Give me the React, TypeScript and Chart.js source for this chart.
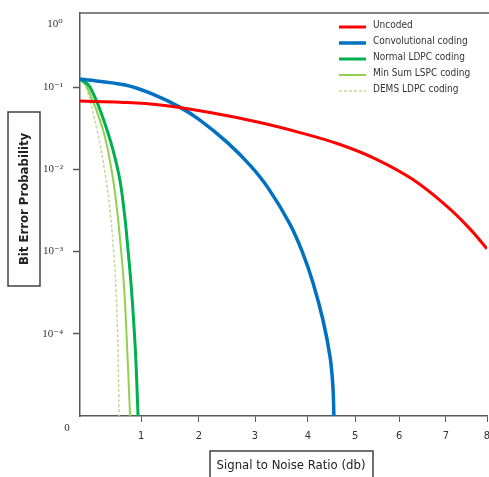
import React, { useEffect, useRef } from "react";
import { Chart, registerables, LinearScale } from "chart.js";

Chart.register(...registerables);

// ---- data ----
const X_TICKS = [1, 2, 3, 4, 5, 6, 7, 8];
const Y_TICKS = [1e-4, 1e-3, 1e-2, 1e-1];
const Y_TICK_LABELS = ["10⁻⁴", "10⁻³", "10⁻²", "10⁻¹"];
const Y_TOP_LABEL = "10⁰";
const ORIGIN_LABEL = "0";

const SERIES_NAMES = [
  "Uncoded",
  "Convolutional coding",
  "Normal LDPC coding",
  "Min Sum LSPC coding",
  "DEMS LDPC coding",
];

const UNCODED_X = [0, 0.66, 1.33, 2.2, 3.09, 3.85, 4.68, 5.45, 6.28, 7.02, 7.59, 8];
const UNCODED_Y = [0.0675, 0.0653, 0.0604, 0.0489, 0.037, 0.0279, 0.02, 0.01349, 0.0076, 0.00356, 0.00187, 0.00108];

const CONV_X = [0, 0.74, 1.24, 1.67, 2.02, 2.5, 2.91, 3.25, 3.66, 3.91, 4.11, 4.32, 4.47, 4.53, 4.55];
const CONV_Y = [0.125, 0.1057, 0.0798, 0.057, 0.0396, 0.0214, 0.01125, 0.0059, 0.00215, 0.00093, 0.000412, 0.000146, 0.0000519, 0.0000224, 0.00001];

const NORMAL_X = [0, 0.164, 0.443, 0.631, 0.721, 0.787, 0.844, 0.907, 0.951];
const NORMAL_Y = [0.125, 0.1, 0.03, 0.009, 0.00318, 0.00104, 0.000339, 0.000063, 0.00001];

const MINSUM_X = [0, 0.115, 0.377, 0.525, 0.607, 0.672, 0.725, 0.774, 0.82];
const MINSUM_Y = [0.125, 0.1, 0.03, 0.009, 0.00318, 0.00104, 0.000339, 0.000063, 0.00001];

const DEMS_X = [0, 0.098, 0.279, 0.41, 0.492, 0.549, 0.59, 0.623, 0.639];
const DEMS_Y = [0.125, 0.1, 0.03, 0.009, 0.00318, 0.00104, 0.000339, 0.000063, 0.00001];

// ---- scale config: the reference's x ticks are unevenly spaced ----
const X_TICK_FRACTIONS = [0, 0.15, 0.292, 0.43, 0.56, 0.676, 0.784, 0.899, 1];

function warp(v: number) {
  const n = X_TICK_FRACTIONS.length - 1;
  if (v <= 0) return X_TICK_FRACTIONS[0] + v * (X_TICK_FRACTIONS[1] - X_TICK_FRACTIONS[0]);
  if (v >= n) return X_TICK_FRACTIONS[n] + (v - n) * (X_TICK_FRACTIONS[n] - X_TICK_FRACTIONS[n - 1]);
  const i = Math.floor(v);
  const t = v - i;
  return X_TICK_FRACTIONS[i] + t * (X_TICK_FRACTIONS[i + 1] - X_TICK_FRACTIONS[i]);
}
function unwarp(d: number) {
  const n = X_TICK_FRACTIONS.length - 1;
  for (let i = 0; i < n; i++) {
    const a = X_TICK_FRACTIONS[i], b = X_TICK_FRACTIONS[i + 1];
    if (d <= b || i === n - 1) return i + (d - a) / (b - a);
  }
  return n;
}

class WarpScale extends LinearScale {
  static id = "warp";
  static defaults = LinearScale.defaults;
  getPixelForValue(value: any) {
    if (value === null || value === undefined || isNaN(value)) return NaN;
    return this.getPixelForDecimal(warp(value));
  }
  getValueForPixel(pixel: number) {
    return unwarp(this.getDecimalForPixel(pixel));
  }
}
Chart.register(WarpScale as any);

const pts = (xs: number[], ys: number[]) => xs.map((x, i) => ({ x, y: ys[i] }));

const COLORS = ["#FF0000", "#0070C0", "#00B050", "#92D050", "#C4D69B"];
const WIDTHS = [3, 3.5, 3, 2, 1.5];

const SANS = "'Liberation Sans Narrow', 'DejaVu Sans Condensed', 'Liberation Sans', sans-serif";
const SERIF = "'Liberation Serif', 'DejaVu Serif', serif";

const decor = {
  id: "decor",
  afterDraw(chart: any) {
    const { ctx, chartArea: a } = chart;
    ctx.save();
    // top border
    ctx.strokeStyle = "#595959";
    ctx.lineWidth = 1.5;
    ctx.beginPath();
    ctx.moveTo(a.left, a.top);
    ctx.lineTo(a.right + 2, a.top);
    ctx.stroke();

    // extra axis labels
    ctx.fillStyle = "#333";
    ctx.textAlign = "center";
    ctx.textBaseline = "middle";
    ctx.font = `11px ${SERIF}`;
    ctx.fillText(Y_TOP_LABEL, 55, a.top + 11);
    ctx.fillText(ORIGIN_LABEL, 67, a.bottom + 12);

    // y title box
    ctx.strokeStyle = "#404040";
    ctx.lineWidth = 1.5;
    ctx.strokeRect(8, 112, 32, 174);
    ctx.save();
    ctx.translate(25, 199);
    ctx.rotate(-Math.PI / 2);
    ctx.fillStyle = "#222";
    ctx.font = `bold 13px ${SANS}`;
    ctx.fillText("Bit Error Probability", 0, 0);
    ctx.restore();

    // x title box
    ctx.strokeRect(210, 451, 163, 40);
    ctx.fillStyle = "#222";
    ctx.font = `13px ${SANS}`;
    ctx.fillText("Signal to Noise Ratio (db)", 291, 466);

    // legend
    const lx = a.right - 148;
    ctx.textAlign = "left";
    ctx.font = `10px ${SANS}`;
    chart.data.datasets.forEach((ds: any, i: number) => {
      const ty = a.top + 12 + i * 16;
      const ly = ty + 2;
      ctx.strokeStyle = ds.borderColor;
      ctx.lineWidth = ds.borderWidth;
      ctx.setLineDash(ds.borderDash || []);
      ctx.beginPath();
      ctx.moveTo(lx, ly);
      ctx.lineTo(lx + 27, ly);
      ctx.stroke();
      ctx.setLineDash([]);
      ctx.fillStyle = "#333";
      ctx.fillText(ds.label, lx + 34, ty);
    });
    ctx.restore();
  },
};

export default function App() {
  const ref = useRef<HTMLCanvasElement>(null);
  useEffect(() => {
    document.body.style.margin = "0";
    const series = [
      pts(UNCODED_X, UNCODED_Y),
      pts(CONV_X, CONV_Y),
      pts(NORMAL_X, NORMAL_Y),
      pts(MINSUM_X, MINSUM_Y),
      pts(DEMS_X, DEMS_Y),
    ];
    const chart = new Chart(ref.current!, {
      type: "scatter",
      data: {
        datasets: series.map((d, i) => ({
          label: SERIES_NAMES[i],
          data: d,
          showLine: true,
          borderColor: COLORS[i],
          backgroundColor: COLORS[i],
          borderWidth: WIDTHS[i],
          borderDash: i === 4 ? [3, 2] : [],
          pointRadius: 0,
          tension: 0.4,
          fill: false,
        })),
      },
      options: {
        animation: false,
        responsive: false,
        devicePixelRatio: 1,
        layout: { padding: { top: 13, right: 2, left: 0, bottom: 0 } },
        plugins: { legend: { display: false }, tooltip: { enabled: false } },
        scales: {
          x: {
            type: "warp" as any,
            min: 0,
            max: 8,
            afterBuildTicks: (s: any) => {
              s.ticks = X_TICKS.map((v) => ({ value: v }));
            },
            afterFit: (s: any) => {
              s.height = 61;
              s.paddingLeft = 0;
              s.paddingRight = 0;
            },
            border: { display: true, color: "#595959", width: 1.5 },
            grid: { display: true, drawOnChartArea: false, drawTicks: true, tickLength: 6, color: "#595959", tickWidth: 1 },
            ticks: {
              autoSkip: false,
              maxRotation: 0,
              padding: 8,
              color: "#333",
              font: { family: SANS, size: 11 },
              callback: (v: any) => String(v),
            },
          },
          y: {
            type: "logarithmic",
            min: 1e-5,
            max: Math.pow(10, -0.1),
            afterBuildTicks: (s: any) => {
              s.ticks = Y_TICKS.map((v) => ({ value: v }));
            },
            afterFit: (s: any) => {
              s.width = 80;
              s.paddingTop = 0;
              s.paddingBottom = 0;
            },
            border: { display: true, color: "#595959", width: 1.5 },
            grid: { display: true, drawOnChartArea: false, drawTicks: true, tickLength: 7, color: "#595959", tickWidth: 1.5 },
            ticks: {
              autoSkip: false,
              padding: 10,
              color: "#333",
              font: { family: SERIF, size: 11 },
              callback: (v: any) => {
                const i = Y_TICKS.findIndex((t) => Math.abs(t - v) / t < 1e-6);
                return i >= 0 ? Y_TICK_LABELS[i] : "";
              },
            },
          },
        },
      },
      plugins: [decor],
    });
    return () => chart.destroy();
  }, []);
  return <canvas ref={ref} width={489} height={477} style={{ display: "block", width: 489, height: 477 }} />;
}
